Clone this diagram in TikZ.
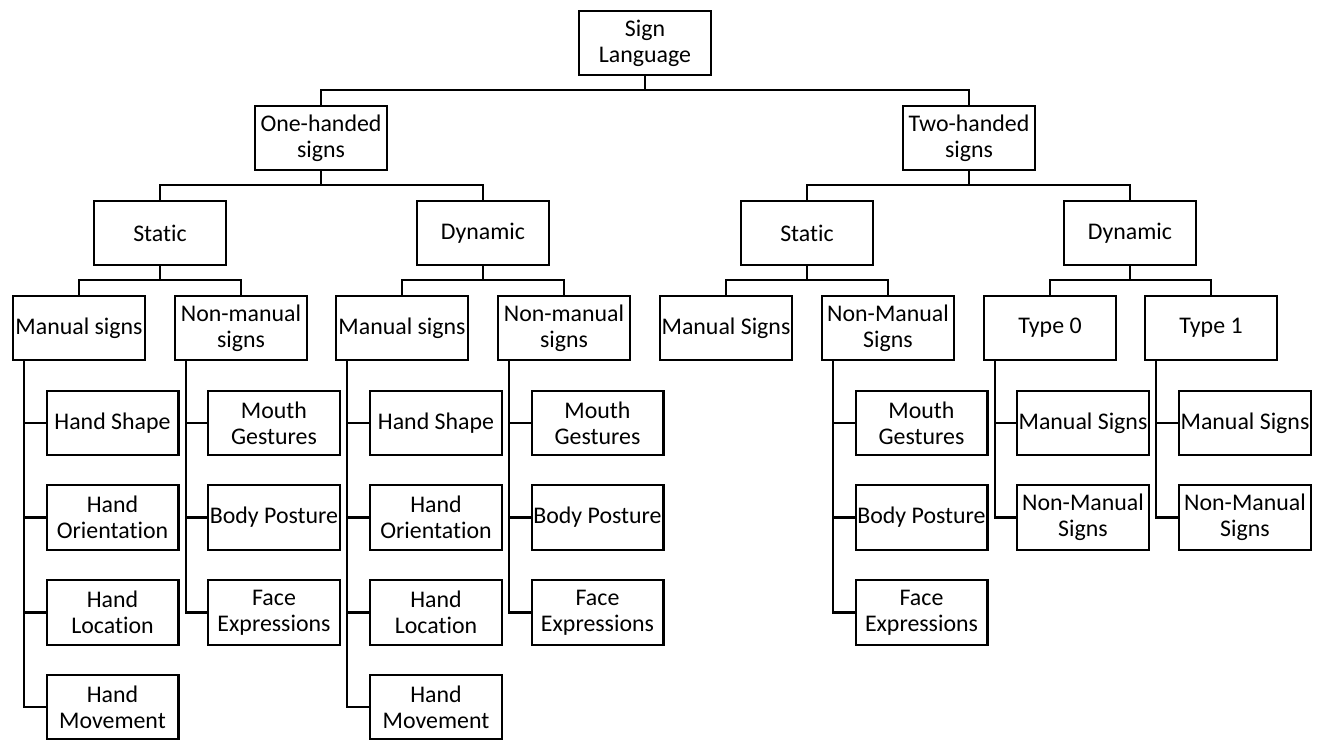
\documentclass[tikz,border=0pt]{standalone}
\usepackage{fontspec}
\setmainfont{Carlito}[Ligatures=NoCommon]
\begin{document}
\begin{tikzpicture}[x=0.75pt,y=-0.75pt,
  box/.style={draw, line width=1.6pt, inner sep=0pt, align=center,
    minimum width=98.9pt, minimum height=48.6pt,
    font=\fontsize{17.9pt}{19.5pt}\selectfont},
  link/.style={line width=1.6pt}]
\useasboundingbox (0,0) rectangle (1317,741);

% top levels
\node[box] (root) at (645,43) {Sign\\Language};
\node[box] (one) at (321,138) {One-handed\\signs};
\node[box] (two) at (969,138) {Two-handed\\signs};
\node[box] (lst) at (160,233) {Static};
\node[box] (ldy) at (483,233) {Dynamic};
\node[box] (rst) at (807,233) {Static};
\node[box] (rdy) at (1130,233) {Dynamic};

% third level
\node[box] (lsm) at (79,328) {Manual signs};
\node[box] (lsn) at (241,328) {Non-manual\\signs};
\node[box] (ldm) at (402,328) {Manual signs};
\node[box] (ldn) at (564,328) {Non-manual\\signs};
\node[box] (rsm) at (726,328) {Manual Signs};
\node[box] (rsn) at (888,328) {Non-Manual\\Signs};
\node[box] (tz) at (1050,328) {Type 0};
\node[box] (tw) at (1211,328) {Type 1};

% leaves: one-handed static
\node[box] (a1) at (112.5,423) {Hand Shape};
\node[box] (a2) at (112.5,517.5) {Hand\\Orientation};
\node[box] (a3) at (112.5,612.5) {Hand\\Location};
\node[box] (a4) at (112.5,707) {Hand\\Movement};
\node[box] (b1) at (274,423) {Mouth\\Gestures};
\node[box] (b2) at (274,517.5) {Body Posture};
\node[box] (b3) at (274,612.5) {Face\\Expressions};
% leaves: one-handed dynamic
\node[box] (c1) at (436,423) {Hand Shape};
\node[box] (c2) at (436,517.5) {Hand\\Orientation};
\node[box] (c3) at (436,612.5) {Hand\\Location};
\node[box] (c4) at (436,707) {Hand\\Movement};
\node[box] (d1) at (597.5,423) {Mouth\\Gestures};
\node[box] (d2) at (597.5,517.5) {Body Posture};
\node[box] (d3) at (597.5,612.5) {Face\\Expressions};
% leaves: two-handed
\node[box] (e1) at (921.5,423) {Mouth\\Gestures};
\node[box] (e2) at (921.5,517.5) {Body Posture};
\node[box] (e3) at (921.5,612.5) {Face\\Expressions};
\node[box] (f1) at (1083,423) {Manual Signs};
\node[box] (f2) at (1083,517.5) {Non-Manual\\Signs};
\node[box] (g1) at (1245,423) {Manual Signs};
\node[box] (g2) at (1245,517.5) {Non-Manual\\Signs};

% bus connectors between levels
\foreach \p/\c in {root/one,root/two,one/lst,one/ldy,two/rst,two/rdy,
  lst/lsm,lst/lsn,ldy/ldm,ldy/ldn,rst/rsm,rst/rsn,rdy/tz,rdy/tw}
  \draw[link] (\p.south) -- ++(0,13.5) -| (\c.north);

% side spines to leaves
\foreach \p/\c in {lsm/a1,lsm/a2,lsm/a3,lsm/a4,lsn/b1,lsn/b2,lsn/b3,
  ldm/c1,ldm/c2,ldm/c3,ldm/c4,ldn/d1,ldn/d2,ldn/d3,
  rsn/e1,rsn/e2,rsn/e3,tz/f1,tz/f2,tw/g1,tw/g2}
  \draw[link] ([xshift=9pt]\p.south west) |- (\c.west);
\end{tikzpicture}
\end{document}
